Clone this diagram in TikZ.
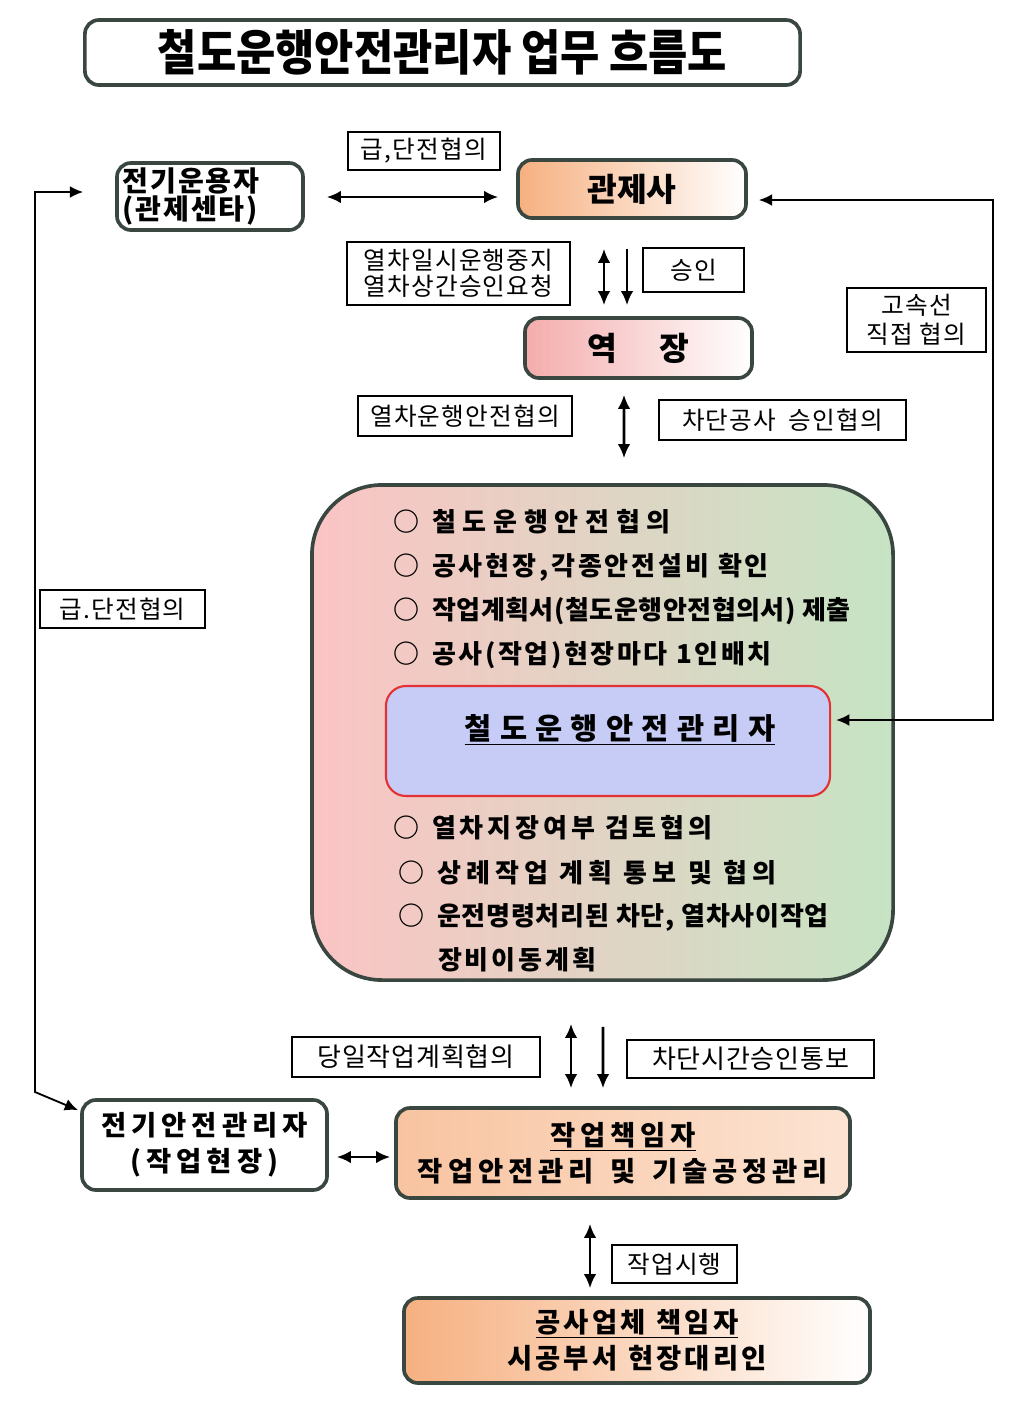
\documentclass[tikz,border=0pt]{standalone}
\usepackage{fontspec}
\setmainfont{Noto Sans CJK KR}
\usetikzlibrary{positioning,arrows.meta,calc}

\definecolor{edgegray}{RGB}{58,70,64}
\definecolor{boxorange}{RGB}{246,176,128}
\definecolor{boxpink}{RGB}{244,172,172}
\definecolor{bigpink}{RGB}{251,196,196}
\definecolor{biggreen}{RGB}{198,228,196}
\definecolor{mgrblue}{RGB}{198,204,246}
\definecolor{mgrred}{RGB}{228,50,50}

\newcommand{\fs}[2]{\fontsize{#1}{#2}\selectfont}
\newcommand{\ls}[1]{\addfontfeature{LetterSpace=#1}}

\begin{document}
\begin{tikzpicture}[x=0.025cm, y=-0.025cm,
    every node/.style={inner sep=2pt},
    mainbox/.style={draw=edgegray, line width=2.6pt, rounded corners=0.35cm,
      align=center, font=\bfseries\fs{19.5}{25.5}},
    tag/.style={draw, line width=0.9pt, fill=white, align=center,
      font=\fs{17.5}{18.5}\addfontfeature{LetterSpace=5}},
    item/.style={anchor=west, font=\bfseries\fs{18.5}{20}},
    arr/.style={line width=1.8pt, -{Latex[length=10pt,width=9pt]}},
    dbl/.style={line width=1.8pt, {Latex[length=10pt,width=9pt]}-{Latex[length=10pt,width=9pt]}},
    thin dbl/.style={line width=1.3pt, {Latex[length=9.5pt,width=8.5pt]}-{Latex[length=9.5pt,width=8.5pt]}}]
  \useasboundingbox (0,0) rectangle (1024,1410);

  % 제목
  \node[mainbox, fill=white, minimum width=17.875cm, minimum height=1.625cm,
    font=\bfseries\fs{34.5}{40}\addfontfeature{FakeStretch=0.88}] (title) at (442.5,52.5)
    {철도운행안전관리자 업무 흐름도};

  % 상단 기관
  \node[mainbox, fill=white, minimum width=4.65cm, minimum height=1.675cm,
    text width=4.35cm, align=left, font=\bfseries\fs{20}{20}\addfontfeature{LetterSpace=6}] (ops) at (210,196.5)
    {전기운용자\\(관제센타)};
  \node[mainbox, left color=boxorange, right color=white, minimum width=5.7cm,
    minimum height=1.45cm, font=\bfseries\fs{23}{26}] (ctrl) at (632,189) {관제사};
  \node[mainbox, left color=boxpink, right color=white, minimum width=5.675cm,
    minimum height=1.5cm, font=\bfseries\fs{23}{26}] (sta) at (638.5,348) {역\hspace{1.3em}장};

  % 철도운행안전관리자 업무
  \node[draw=edgegray, line width=2.6pt, rounded corners=1.75cm, left color=bigpink,
    right color=biggreen, minimum width=14.525cm, minimum height=12.375cm] (duty) at (602.5,732.5) {};
  \node[draw=mgrred, line width=1.5pt, fill=mgrblue, rounded corners=0.5cm,
    minimum width=11.1cm, minimum height=2.75cm] (mgrbox) at (608,741) {};
  \node[font=\bfseries\fs{21}{24}\addfontfeature{LetterSpace=28}] (mgr) at (620,730)
    {\underline{철도운행안전관리자}};
  \node[item] (dutyA) at (390,522) {○\enspace{\ls{26}철도운행안전협의}};
  \node[item] (dutyB) at (390,567) {○\enspace{\ls{11}공사현장,각종안전설비 확인}};
  \node[item] (dutyC) at (390,611) {○\enspace{\ls{2}작업계획서(철도운행안전협의서) 제출}};
  \node[item] (dutyD) at (390,655) {○\enspace{\ls{10}공사(작업)현장마다 1인배치}};
  \node[item] (dutyE) at (390,828) {○\enspace{\ls{15}열차지장여부 검토협의}};
  \node[item] (dutyF) at (395,873) {○\enspace{\ls{20}상례작업 계획 통보 및 협의}};
  \node[item] (dutyG) at (395,917) {○\enspace{\ls{3}운전명령처리된 차단, 열차사이작업}};
  \node[item] (dutyH) at (435,960) {\ls{11}장비이동계획};

  % 하단 현장
  \node[mainbox, fill=white, minimum width=6.125cm, minimum height=2.25cm,
    font=\bfseries\fs{19.5}{25.5}\addfontfeature{LetterSpace=18}] (elec) at (204.5,1145)
    {전기안전관리자\\(작업현장)};
  \node[mainbox, left color=boxorange!75, right color=boxorange!35, minimum width=11.35cm,
    minimum height=2.25cm, font=\bfseries\fs{19.5}{25.5}\addfontfeature{LetterSpace=18}] (lead) at (623,1153)
    {\underline{작업책임자}\\작업안전관리\hspace{0.6em}및\hspace{0.6em}기술공정관리};
  \node[mainbox, left color=boxorange, right color=white, minimum width=11.65cm,
    minimum height=2.125cm, font=\bfseries\fs{19.5}{25.5}\addfontfeature{LetterSpace=11}] (firm) at (637,1340.5)
    {\underline{공사업체\hspace{0.4em}책임자}\\시공부서\hspace{0.4em}현장대리인};

  % 연결선
  \draw[dbl] ($(ops.east)+(22,0.5)$) -- ($(ctrl.west |- ops.east)+(-18,0.5)$);
  \draw[dbl] ($(ctrl.south)+(-28,29)$) -- ($(sta.north)+(-34.5,-11)$);
  \draw[arr] ($(ctrl.south)+(-5,29)$) -- ($(sta.north)+(-11.5,-11)$);
  \draw[dbl] ($(sta.south)+(-14.5,15)$) -- ($(duty.north)+(21.5,-25)$);
  \draw[dbl] ($(duty.south)+(-31.5,42)$) -- ($(lead.north)+(-52,-18)$);
  \draw[arr] ($(duty.south)+(0.5,45)$) -- ($(lead.north)+(-20,-18)$);
  \draw[dbl] ($(elec.east)+(8,12)$) -- ($(lead.west)+(-4,4)$);
  \draw[dbl] ($(lead.south)+(-33,24)$) -- ($(firm.north)+(-47,-8)$);
  % 고속선 직접 협의
  \coordinate (rtop) at (993,200);
  \coordinate (rbot) at (993,720);
  \draw[thin dbl] ($(ctrl.east |- rtop)+(11,0)$) -- (rtop) -- (rbot) -- ($(mgrbox.east |- rbot)+(5,0)$);
  % 급.단전협의 (좌측)
  \coordinate (ltop) at (35,192);
  \coordinate (lbot) at (35,1092);
  \draw[thin dbl] ($(ops.west |- ltop)+(-32,0)$) -- (ltop) -- (lbot) -- ($(elec.north west)+(-2,12)$);

  % 협의 내용
  \node[tag, minimum width=3.8cm, minimum height=0.95cm] (tagFeed) at (424,151) {급,단전협의};
  \node[tag, minimum width=5.575cm, minimum height=1.575cm] (tagStop) at (458.5,273.5)
    {열차일시운행중지\\열차상간승인요청};
  \node[tag, minimum width=2.525cm, minimum height=1.1cm] (tagOk) at (693.5,270) {승인};
  \node[tag, minimum width=3.475cm, minimum height=1.6cm, font=\fs{17.5}{21}\addfontfeature{LetterSpace=5}] (tagHigh) at (916.5,320)
    {고속선\\직접 협의};
  \node[tag, minimum width=5.35cm, minimum height=1.0cm] (tagSafe) at (465,416) {열차운행안전협의};
  \node[tag, minimum width=6.175cm, minimum height=1.0cm] (tagCut) at (782.5,420) {차단공사\hspace{0.5em}승인협의};
  \node[tag, minimum width=4.125cm, minimum height=0.95cm] (tagFeedL) at (122.5,609) {급.단전협의};
  \node[tag, minimum width=6.2cm, minimum height=1.0cm, font=\fs{18.5}{20}\addfontfeature{LetterSpace=3}] (tagDay) at (416,1057)
    {당일작업계획협의};
  \node[tag, minimum width=6.175cm, minimum height=0.95cm, font=\fs{18.5}{20}\addfontfeature{LetterSpace=3}] (tagTime) at (750.5,1059)
    {차단시간승인통보};
  \node[tag, minimum width=3.125cm, minimum height=0.95cm] (tagDo) at (674.5,1264) {작업시행};
\end{tikzpicture}
\end{document}
